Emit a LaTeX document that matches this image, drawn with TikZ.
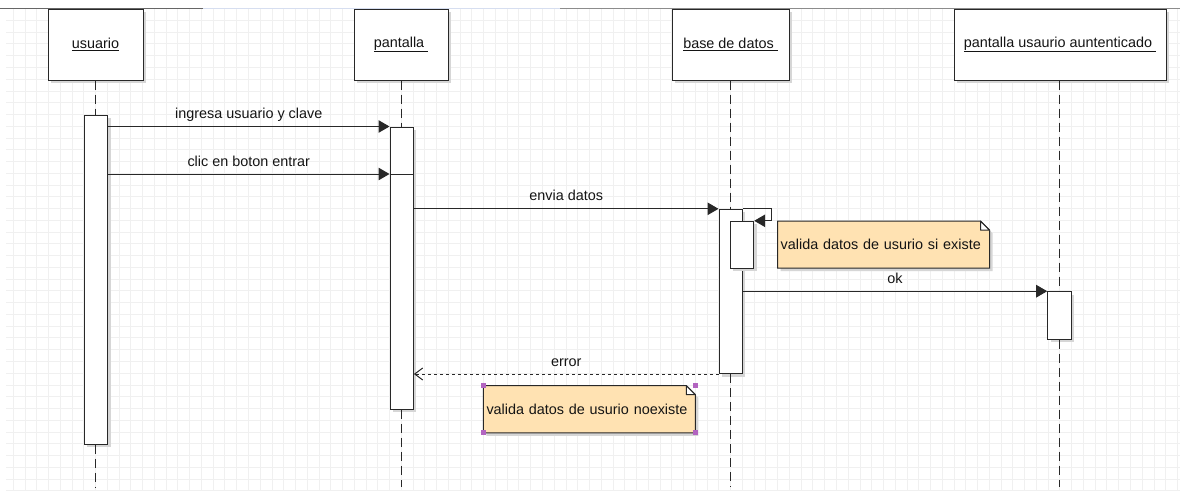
\documentclass[tikz,border=0pt]{standalone}
\usepackage{fontspec}
\setmainfont{Liberation Sans}
\usetikzlibrary{arrows.meta,shadows,calc}
\pgfdeclarelayer{gridlayer}
\pgfdeclarelayer{back}
\pgfsetlayers{gridlayer,back,main}
\definecolor{ink}{RGB}{40,40,40}
\definecolor{textink}{RGB}{20,20,20}
\definecolor{notefill}{RGB}{255,226,178}
\definecolor{handlecol}{RGB}{178,100,192}
\definecolor{gridcol}{RGB}{240,240,240}
\definecolor{topedge}{RGB}{214,222,240}
\newcommand\dfont{\fontsize{14.4}{17}\selectfont}

\begin{document}
\begin{tikzpicture}[x=1pt,y=-1pt,
  every node/.style={font=\dfont, text=textink},
  shade box/.style={drop shadow={shadow xshift=3pt,shadow yshift=-3pt,fill=black!16,opacity=1}},
  header/.style={draw=ink, line width=1pt, fill=white, shade box, inner sep=0pt, minimum height=71pt},
  activation/.style={draw=ink, line width=1pt, fill=white, shade box, minimum width=23.4pt, inner sep=0pt},
  lifeline/.style={draw=ink, line width=1pt, dash pattern=on 9pt off 5pt},
  msg/.style={draw=ink, line width=1pt, -{Triangle[length=11pt,width=12.5pt]}},
  reply/.style={draw=ink, line width=1pt, dash pattern=on 3pt off 3pt, -{Straight Barb[length=8pt,width=12pt]}},
  lbl/.style={midway, anchor=base, yshift=8pt},
  note/.style={inner xsep=3pt, inner ysep=0pt, align=left, minimum height=46.7pt, text width=205.6pt},
  handle/.style={fill=handlecol}
]
\useasboundingbox (0,0) rectangle (1180,493);

% canvas grid
\begin{pgfonlayer}{gridlayer}
  \fill[white] (0,0) rectangle (1180,493);
  \foreach \k in {0,...,41}
    \draw[gridcol, line width=1pt] (6,{8.7+11.76*\k}) -- (1180,{8.7+11.76*\k});
  \foreach \k in {0,...,99}
    \draw[gridcol, line width=1pt] ({13.3+11.76*\k},8.7) -- ({13.3+11.76*\k},491);
  \draw[black!60, line width=1pt] (0,8) -- (203,8);
  \draw[topedge, line width=1pt] (203,8) -- (560,8);
  \draw[black!45, line width=1pt] (560,8) -- (1180,8);
\end{pgfonlayer}

% participants
\node[header, minimum width=95pt]  (u)  at (95.5,44.5)  {\underline{usuario}};
\node[header, minimum width=94pt]  (p)  at (401,44.5)   {\underline{pantalla\ }};
\node[header, minimum width=117pt] (b)  at (730.5,44.5) {\underline{base de datos\ }};
\node[header, minimum width=212pt] (pu) at (1060,44.5)  {\underline{pantalla usaurio auntenticado\ }};

\coordinate (bottom) at (0,487);

% activation bars
\node[activation, minimum height=329pt]   (ua)  at (95.8,279.8)   {};
\node[activation, minimum height=282.3pt] (pa)  at (401.7,268.15) {};
\node[activation, minimum height=164.2pt] (ba)  at (730.7,291.4)  {};
\node[activation, minimum height=46.7pt]  (bn)  at (742,244.65)   {};
\node[activation, minimum height=47.3pt]  (pua) at (1059.4,315.35) {};

% lifelines
\draw[lifeline] (ua.north |- u.south) -- (ua.north);
\draw[lifeline] (ua.south) -- (ua.south |- bottom);
\draw[lifeline] (pa.north |- p.south) -- (pa.north);
\draw[lifeline] (pa.south) -- (pa.south |- bottom);
\draw[lifeline] (ba.north |- b.south) -- (ba.north);
\draw[lifeline] (ba.south) -- (ba.south |- bottom);
\draw[lifeline] (pua.north |- pu.south) -- (pua.north);
\draw[lifeline] (pua.south) -- (pua.south |- bottom);

% messages
\coordinate (y2) at (0,174);
\draw[msg] (ua.east |- pa.north) -- (pa.north west) node[lbl] {ingresa usuario y clave};
\draw[msg] (ua.east |- y2) -- (pa.west |- y2) node[lbl] {clic en boton entrar};
\draw[draw=ink, line width=1pt] (pa.west |- y2) -- (pa.east |- y2);
\draw[msg] (pa.east |- ba.north) -- (ba.north west) node[lbl] {envia datos};
\draw[msg] (ba.north east) -- ++(29,0) |- (bn.north east);
\draw[msg] (ba.east |- pua.north) -- (pua.north west) node[lbl] {ok};
\draw[reply] (ba.south west) -- (pa.east |- ba.south) node[lbl] {error};

% notes
\node[note] (n1) at (883.5,244.65) {valida datos de usurio si existe};
\node[note] (n2) at (589.3,409.2)  {valida datos de usurio noexiste};
\begin{pgfonlayer}{back}
\foreach \n in {n1,n2} {
  \fill[black!16] ([shift={(3pt,-3pt)}]\n.north west) -- ([shift={(-6pt,-3pt)}]\n.north east)
    -- ([shift={(3pt,-12pt)}]\n.north east) -- ([shift={(3pt,-3pt)}]\n.south east)
    -- ([shift={(3pt,-3pt)}]\n.south west) -- cycle;
  \filldraw[fill=notefill, draw=ink, line width=1pt] (\n.north west) -- ([xshift=-9pt]\n.north east)
    -- ([yshift=-9pt]\n.north east) -- (\n.south east) -- (\n.south west) -- cycle;
  \filldraw[fill=white, draw=ink, line width=1pt, line join=round] ([xshift=-9pt]\n.north east)
    -- ([shift={(-9pt,-9pt)}]\n.north east) -- ([yshift=-9pt]\n.north east) -- cycle;
}
\end{pgfonlayer}

% selection handles
\foreach \a in {north west, north east, south west, south east}
  \fill[handle] ([shift={(-2.5pt,-2.5pt)}]n2.\a) rectangle ([shift={(2.5pt,2.5pt)}]n2.\a);
\end{tikzpicture}
\end{document}
